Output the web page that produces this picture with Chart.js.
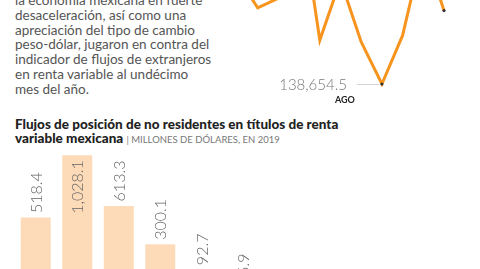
<!DOCTYPE html>
<html>
<head>
<meta charset="utf-8">
<script src="https://cdn.jsdelivr.net/npm/chart.js@4"></script>
<style>
html, body { margin: 0; padding: 0; background: #fff; }
body { width: 480px; height: 269px; overflow: hidden; position: relative; font-family: Lato, sans-serif; }
#note { position: absolute; left: 15px; top: -7px; font-size: 13.5px; line-height: 14.8px; color: #555; white-space: nowrap; }
#title { position: absolute; left: 15px; top: 117px; font-size: 13.5px; line-height: 14px; font-weight: 900; color: #222; white-space: nowrap; }
#title .sub { font-weight: 400; font-size: 9.5px; color: #777; }
#lineBox { position: absolute; left: 0; top: 0; width: 480px; height: 269px; }
#barBox { position: absolute; left: 0; top: 145px; width: 480px; height: 140px; }
</style>
</head>
<body>
<div id="note">la economía mexicana en fuerte<br>desaceleración, así como una<br>apreciación del tipo de cambio<br>peso-dólar, jugaron en contra del<br>indicador de flujos de extranjeros<br>en renta variable al undécimo<br>mes del año.</div>
<div id="title">Flujos de posición de no residentes en títulos de renta<br>variable mexicana <span class="sub">| MILLONES DE DÓLARES, EN 2019</span></div>
<div id="barBox"><canvas id="bars"></canvas></div>
<div id="lineBox"><canvas id="line"></canvas></div>
<script>
// tenencia (line, mostly cropped at the top)
const lineMonths = ["ENE", "FEB", "MAR", "ABR", "MAY", "JUN", "JUL", "AGO", "SEP", "OCT", "NOV"];
const holdings = [184210.3, 170620.8, 174690.2, 215380.6, 157090.4, 182240.9, 156280.7, 138654.5, 159040.1, 196230.5, 169480.2];

// flujos mensuales (bars)
const barMonths = ["ENE", "FEB", "MAR", "ABR", "MAY", "JUN"];
const flows = [518.4, 1028.1, 613.3, 300.1, 92.7, 5.9];

const fmt = (v) => v.toLocaleString("en-US", { minimumFractionDigits: 1, maximumFractionDigits: 1 });
const minIdx = holdings.indexOf(Math.min(...holdings));
const lastIdx = holdings.length - 1;

const minLabel = {
  id: "minLabel",
  afterDatasetsDraw(chart) {
    const pt = chart.getDatasetMeta(0).data[minIdx];
    const c = chart.ctx;
    c.save();
    c.strokeStyle = "#d4d4d4";
    c.lineWidth = 1;
    c.beginPath();
    c.moveTo(pt.x - 25, Math.round(pt.y) + 0.5);
    c.lineTo(pt.x - 3, Math.round(pt.y) + 0.5);
    c.stroke();
    c.fillStyle = "#777";
    c.font = "300 15px Lato";
    c.textAlign = "right";
    c.textBaseline = "middle";
    c.fillText(fmt(holdings[minIdx]), pt.x - 35, pt.y + 1);
    c.fillStyle = "#222";
    c.font = "bold 9px Lato";
    c.textAlign = "center";
    c.fillText(lineMonths[minIdx], pt.x - 37, pt.y + 16);
    c.restore();
  },
};

new Chart(document.getElementById("line"), {
  type: "line",
  data: {
    labels: lineMonths,
    datasets: [{
      data: holdings,
      borderColor: "#F7941D",
      borderWidth: 3,
      tension: 0,
      clip: false,
      pointRadius: (c) => (c.dataIndex === minIdx || c.dataIndex === lastIdx ? 1.6 : 0),
      pointBackgroundColor: "#333",
      pointBorderWidth: 0,
    }],
  },
  options: {
    responsive: true,
    maintainAspectRatio: false,
    animation: false,
    layout: { padding: { left: 237, right: 36, top: 0, bottom: 185 } },
    scales: {
      x: { display: false },
      y: { display: false, min: 138654.5, max: 172254.5 },
    },
    plugins: { legend: { display: false }, tooltip: { enabled: false } },
  },
  plugins: [minLabel],
});

const barLabels = {
  id: "barLabels",
  afterDatasetsDraw(chart) {
    const c = chart.ctx;
    c.save();
    c.font = "300 16px Lato";
    c.fillStyle = "#666";
    c.textBaseline = "middle";
    c.textAlign = "left";
    chart.getDatasetMeta(0).data.forEach((bar, i) => {
      const txt = fmt(flows[i]);
      const w = c.measureText(txt).width;
      let y = bar.y - 4.5;
      // no room above the bar: put the label inside, near the top
      if (y - w < chart.chartArea.top) y = bar.y + 5 + w;
      c.save();
      c.translate(bar.x, y);
      c.rotate(-Math.PI / 2);
      c.fillText(txt, 0, 1);
      c.restore();
    });
    c.restore();
  },
};

new Chart(document.getElementById("bars"), {
  type: "bar",
  data: {
    labels: barMonths,
    datasets: [{
      data: flows,
      backgroundColor: "#FDDBB8",
      categoryPercentage: 1,
      barPercentage: 0.723,
    }],
  },
  options: {
    responsive: true,
    maintainAspectRatio: false,
    animation: false,
    layout: { padding: { left: 15, right: 216, top: 0, bottom: 4 } },
    scales: {
      x: { display: false },
      y: { display: false, min: 0, max: 1111 },
    },
    plugins: { legend: { display: false }, tooltip: { enabled: false } },
  },
  plugins: [barLabels],
});
</script>
</body>
</html>
